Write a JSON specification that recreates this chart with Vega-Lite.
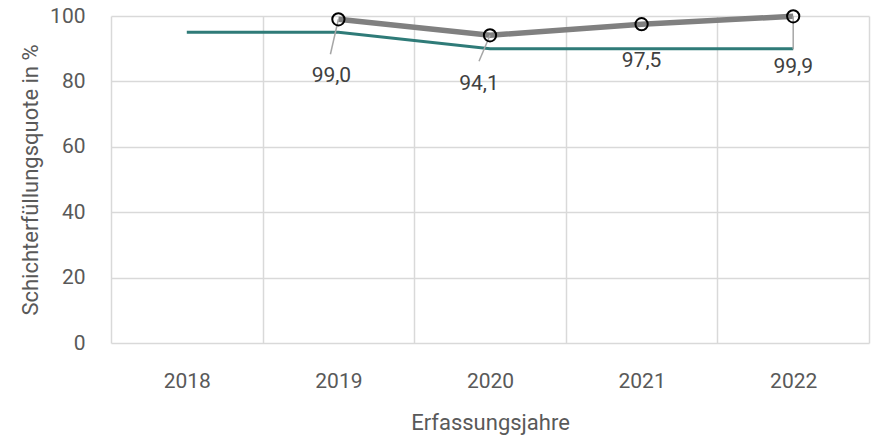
{
  "$schema": "https://vega.github.io/schema/vega-lite/v6.json",
  "width": 758,
  "height": 327,
  "autosize": {"type": "none"},
  "padding": {"left": 111, "top": 16, "right": 3, "bottom": 95},
  "background": "white",
  "config": {
    "view": {"stroke": null},
    "font": "Roboto",
    "locale": {"number": {"decimal": ",", "thousands": ".", "grouping": [3], "currency": ["", " €"]}}
  },
  "datasets": {
    "ref": [
      {"year": "2018", "value": 95},
      {"year": "2019", "value": 95},
      {"year": "2020", "value": 90},
      {"year": "2021", "value": 90},
      {"year": "2022", "value": 90}
    ],
    "erg": [
      {"year": "2019", "value": 99.0},
      {"year": "2020", "value": 94.1},
      {"year": "2021", "value": 97.5},
      {"year": "2022", "value": 99.9}
    ]
  },
  "encoding": {
    "x": {
      "field": "year", "type": "ordinal", "bandPosition": 0.5,
      "scale": {"type": "band", "domain": ["2018", "2019", "2020", "2021", "2022"], "paddingInner": 0, "paddingOuter": 0},
      "axis": {
        "title": "Erfassungsjahre", "labelAngle": 0, "grid": true, "tickBand": "extent",
        "ticks": false, "domain": false, "gridColor": "#d9d9d9", "gridWidth": 1.5,
        "labelFont": "Roboto", "labelFontWeight": 400, "labelFontSize": 21, "labelColor": "#595959", "labelPadding": 27,
        "titleFont": "Roboto", "titleFontWeight": 400, "titleFontSize": 22, "titleColor": "#595959", "titlePadding": 21
      }
    },
    "y": {
      "field": "value", "type": "quantitative",
      "scale": {"domain": [0, 100], "nice": false},
      "axis": {
        "title": "Schichterfüllungsquote in %", "values": [0, 20, 40, 60, 80, 100], "ticks": false, "domain": false,
        "gridColor": "#d9d9d9", "gridWidth": 1.5,
        "labelFont": "Roboto", "labelFontWeight": 400, "labelFontSize": 21, "labelColor": "#595959", "labelPadding": 26,
        "titleFont": "Roboto", "titleFontWeight": 400, "titleFontSize": 22, "titleColor": "#595959", "titlePadding": 7
      }
    }
  },
  "layer": [
    {"data": {"name": "ref"}, "mark": {"type": "line", "color": "#2f7b78", "strokeWidth": 3}},
    {"data": {"name": "erg"}, "mark": {"type": "line", "color": "#808080", "strokeWidth": 5.5}},
    {
      "data": {"name": "erg"},
      "transform": [{"filter": "datum.year == '2019'"}],
      "mark": {"type": "rule", "color": "#a6a6a6", "strokeWidth": 1.5, "y2Offset": 35, "x2Offset": -8},
      "encoding": {"x2": {"field": "year", "bandPosition": 0.5}, "y2": {"field": "value"}}
    },
    {
      "data": {"name": "erg"},
      "transform": [{"filter": "datum.year == '2020'"}],
      "mark": {"type": "rule", "color": "#a6a6a6", "strokeWidth": 1.5, "y2Offset": 26, "x2Offset": -11},
      "encoding": {"x2": {"field": "year", "bandPosition": 0.5}, "y2": {"field": "value"}}
    },
    {
      "data": {"name": "erg"},
      "transform": [{"filter": "datum.year == '2022'"}],
      "mark": {"type": "rule", "color": "#a6a6a6", "strokeWidth": 1.5, "y2Offset": 33},
      "encoding": {"y2": {"field": "value"}}
    },
    {"data": {"name": "erg"}, "mark": {"type": "point", "shape": "circle", "filled": false, "stroke": "#000000", "strokeWidth": 2, "size": 150, "opacity": 1}},
    {
      "data": {"name": "erg"},
      "transform": [{"filter": "datum.year == '2019'"}],
      "mark": {"type": "text", "font": "Roboto", "fontSize": 21, "color": "#404040", "dx": -7, "dy": 57},
      "encoding": {"text": {"field": "value", "type": "quantitative", "format": ".1f"}}
    },
    {
      "data": {"name": "erg"},
      "transform": [{"filter": "datum.year == '2020'"}],
      "mark": {"type": "text", "font": "Roboto", "fontSize": 21, "color": "#404040", "dx": -11, "dy": 49},
      "encoding": {"text": {"field": "value", "type": "quantitative", "format": ".1f"}}
    },
    {
      "data": {"name": "erg"},
      "transform": [{"filter": "datum.year == '2021'"}],
      "mark": {"type": "text", "font": "Roboto", "fontSize": 21, "color": "#404040", "dx": 0, "dy": 37},
      "encoding": {"text": {"field": "value", "type": "quantitative", "format": ".1f"}}
    },
    {
      "data": {"name": "erg"},
      "transform": [{"filter": "datum.year == '2022'"}],
      "mark": {"type": "text", "font": "Roboto", "fontSize": 21, "color": "#404040", "dx": 0, "dy": 51},
      "encoding": {"text": {"field": "value", "type": "quantitative", "format": ".1f"}}
    }
  ]
}
